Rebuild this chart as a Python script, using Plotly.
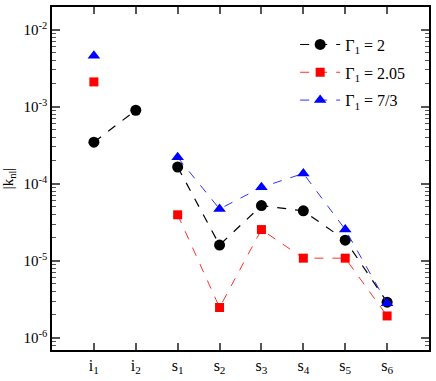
import plotly.graph_objects as go

# category labels along x
labels = ["i<sub>1</sub>", "i<sub>2</sub>", "s<sub>1</sub>", "s<sub>2</sub>",
          "s<sub>3</sub>", "s<sub>4</sub>", "s<sub>5</sub>", "s<sub>6</sub>"]
positions = [1, 2, 3, 4, 5, 6, 7, 8]

# |k_nl| values (None = no point)
k_gamma_2 = [3.46e-4, 9.0e-4, 1.65e-4, 1.6e-5, 5.2e-5, 4.45e-5, 1.85e-5, 2.9e-6]
k_gamma_205 = [2.1e-3, None, 3.95e-5, 2.47e-6, 2.54e-5, 1.08e-5, 1.08e-5, 1.92e-6]
k_gamma_73 = [4.6e-3, None, 2.2e-4, 4.7e-5, 9.0e-5, 1.36e-4, 2.55e-5, 2.8e-6]

# break the lines between the i and s groups
gap_2 = k_gamma_2[:2] + [None] + k_gamma_2[2:]
gap_205 = k_gamma_205[:2] + [None] + k_gamma_205[2:]
gap_73 = k_gamma_73[:2] + [None] + k_gamma_73[2:]
x_gap = positions[:2] + [2.5] + positions[2:]

serif = "Liberation Serif"

fig = go.Figure()

fig.add_scatter(x=x_gap, y=gap_2, mode="lines+markers", name="Γ<sub>1</sub> = 2",
                legendgroup="a",
                line=dict(color="black", dash="dash", width=1.2),
                marker=dict(symbol="circle", size=11, color="black"),
                connectgaps=False)
fig.add_scatter(x=x_gap, y=gap_205, mode="lines+markers", name="Γ<sub>1</sub> = 2.05",
                legendgroup="b",
                line=dict(color="#ff3030", dash="dash", width=1),
                marker=dict(symbol="square", size=9, color="#ff0000"),
                connectgaps=False)
fig.add_scatter(x=x_gap, y=gap_73, mode="lines+markers", name="Γ<sub>1</sub> = 7/3",
                legendgroup="c",
                line=dict(color="#3030ff", dash="dash", width=1),
                marker=dict(symbol="triangle-up", size=11, color="#0000ff"),
                connectgaps=False)

fig.update_xaxes(range=[0, 9], tickmode="array", tickvals=positions, ticktext=labels,
                 ticks="inside", ticklen=7, tickwidth=1.5, tickcolor="#555555",
                 showline=True, linecolor="black", linewidth=1.5, mirror="ticks",
                 showgrid=False, zeroline=False,
                 tickfont=dict(family=serif, size=16, color="black"))

ytickvals = [1e-6, 1e-5, 1e-4, 1e-3, 1e-2]
yticktext = ["10<sup>-6</sup>", "10<sup>-5</sup>", "10<sup>-4</sup>",
             "10<sup>-3</sup>", "10<sup>-2</sup>"]
yminor = [m * d for d in [1e-7, 1e-6, 1e-5, 1e-4, 1e-3, 1e-2] for m in range(2, 10)]

fig.update_yaxes(type="log", range=[-6.159, -1.705], tickmode="array",
                 tickvals=ytickvals, ticktext=yticktext,
                 ticks="inside", ticklen=8, tickwidth=1.5, tickcolor="#555555",
                 minor=dict(ticks="inside", ticklen=4, tickwidth=1.2, tickcolor="#555555",
                            tickmode="array", tickvals=yminor, showgrid=False),
                 showline=True, linecolor="black", linewidth=1.5, mirror="ticks",
                 showgrid=False, zeroline=False,
                 title=dict(text="|k<sub>nl</sub>|", standoff=8,
                            font=dict(family=serif, size=15, color="black")),
                 tickfont=dict(family=serif, size=15, color="black"))

fig.update_layout(template="simple_white", width=436, height=381,
                  margin=dict(l=44, r=6, t=5, b=29),
                  font=dict(family=serif, color="black"),
                  legend=dict(x=0.645, y=0.94, xanchor="left", yanchor="top",
                              bgcolor="rgba(0,0,0,0)", traceorder="grouped",
                              tracegroupgap=4, itemwidth=40,
                              font=dict(family=serif, size=16, color="black")))

fig.write_html("out.html", config={"displayModeBar": False},
               post_script="document.body.style.margin='0';")
